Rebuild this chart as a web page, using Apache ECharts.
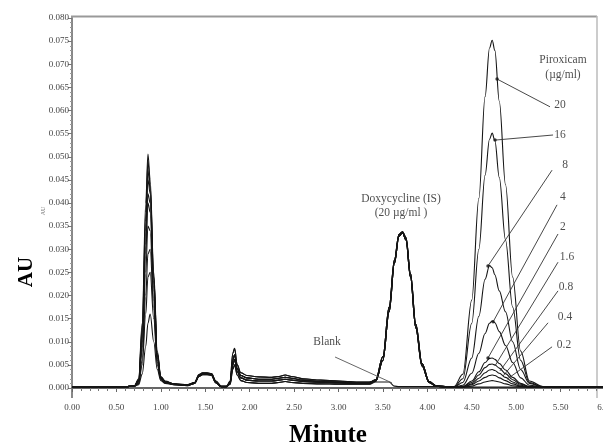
<!DOCTYPE html>
<html><head><meta charset="utf-8">
<script src="https://cdn.jsdelivr.net/npm/echarts@6/dist/echarts.min.js"></script>
<style>html,body{margin:0;padding:0;background:#fff}#c{width:603px;height:447px}</style>
</head><body><div id="c"></div>
<script>
// ---- time grids (minutes) ----
const tSolvent = [0, 0.45, 0.6, 0.7, 0.75, 0.79, 0.83, 0.855, 0.88, 0.92, 0.96, 1.0, 1.05, 1.15];
const tMid = [1.3, 1.38, 1.43, 1.47, 1.52, 1.57, 1.62, 1.68, 1.74, 1.78, 1.81, 1.83, 1.86, 1.9, 1.97, 2.1, 2.25, 2.33, 2.4, 2.47, 2.6, 2.8, 3.0, 3.2, 3.35];
const tDoxy = [3.42, 3.5, 3.57, 3.63, 3.68, 3.72, 3.76, 3.81, 3.87, 3.94, 4.02, 4.1, 4.2];
const tPirox = [4.3, 4.4, 4.5, 4.58, 4.65, 4.7, 4.73, 4.76, 4.81, 4.88, 4.96, 5.05, 5.15, 5.3, 5.6, 6.0];

// ---- solvent front region (AU) ----
const S1 = [0.0003,0.0003,0.0003,0.0004,0.0020,0.0140,0.0400,0.0506,0.0450,0.0250,0.0080,0.0025,0.0015,0.0009];
const S2 = [0.0003,0.0003,0.0003,0.0004,0.0018,0.0130,0.0380,0.0490,0.0440,0.0240,0.0075,0.0024,0.0014,0.0009];
const S3 = [0.0003,0.0003,0.0003,0.0004,0.0017,0.0120,0.0360,0.0470,0.0430,0.0240,0.0075,0.0023,0.0014,0.0009];
const S4 = [0.0003,0.0003,0.0003,0.0004,0.0016,0.0110,0.0340,0.0450,0.0420,0.0230,0.0070,0.0022,0.0013,0.0008];
const S5 = [0.0003,0.0003,0.0003,0.0004,0.0015,0.0100,0.0310,0.0420,0.0400,0.0220,0.0070,0.0022,0.0013,0.0008];
const S6 = [0.0003,0.0003,0.0003,0.0004,0.0014,0.0090,0.0290,0.0400,0.0380,0.0210,0.0065,0.0021,0.0012,0.0008];
const S7 = [0.0003,0.0003,0.0003,0.0004,0.0012,0.0080,0.0250,0.0350,0.0340,0.0190,0.0060,0.0020,0.0012,0.0008];
const S8 = [0.0003,0.0003,0.0003,0.0004,0.0010,0.0060,0.0200,0.0290,0.0300,0.0170,0.0055,0.0019,0.0011,0.0007];
const S9 = [0.0003,0.0003,0.0003,0.0004,0.0009,0.0050,0.0160,0.0240,0.0250,0.0150,0.0050,0.0018,0.0011,0.0007];
const S10 = [0.0003,0.0003,0.0003,0.0004,0.0007,0.0030,0.0090,0.0140,0.0160,0.0100,0.0040,0.0016,0.0010,0.0007];

// ---- middle region (small peaks) ----
const M1 = [0.0007,0.0012,0.0029,0.0033,0.0033,0.0031,0.0015,0.0004,0.0004,0.0015,0.0075,0.0086,0.0050,0.0033,0.0027,0.0024,0.0023,0.0025,0.0028,0.0025,0.0020,0.0017,0.0015,0.0013,0.0013];
const M2 = [0.0006,0.0011,0.0027,0.0031,0.0031,0.0029,0.0013,0.0003,0.0003,0.0012,0.0060,0.0072,0.0042,0.0027,0.0022,0.0019,0.0019,0.0021,0.0023,0.0021,0.0017,0.0014,0.0013,0.0012,0.0012];
const M3 = [0.0006,0.0010,0.0026,0.0030,0.0030,0.0028,0.0012,0.0003,0.0003,0.0010,0.0050,0.0062,0.0035,0.0022,0.0017,0.0015,0.0015,0.0017,0.0019,0.0017,0.0014,0.0012,0.0011,0.0010,0.0010];
const M4 = [0.0005,0.0010,0.0025,0.0029,0.0029,0.0027,0.0011,0.0003,0.0003,0.0008,0.0040,0.0050,0.0028,0.0016,0.0012,0.0010,0.0010,0.0012,0.0014,0.0012,0.0010,0.0009,0.0008,0.0008,0.0008];

// ---- doxycycline (IS) region ----
const Da = [0.0015,0.0060,0.0165,0.0270,0.0328,0.0336,0.0320,0.0240,0.0130,0.0048,0.0012,0.0004,0.0002];
const Db = [0.0018,0.0068,0.0175,0.0277,0.0332,0.0338,0.0325,0.0248,0.0138,0.0053,0.0014,0.0005,0.0003];
const Dblank = [0.0013,0.0013,0.0013,0.0004,0.0003,0.0003,0.0003,0.0003,0.0003,0.0003,0.0003,0.0003,0.0003];

// ---- piroxicam region ----
const P20 = [0.0003,0.0030,0.0190,0.0410,0.0630,0.0735,0.0752,0.0730,0.0620,0.0440,0.0240,0.0080,0.0015,0.0003,0.0002,0.0002];
const P16 = [0.0002,0.0020,0.0140,0.0300,0.0460,0.0538,0.0551,0.0535,0.0455,0.0320,0.0175,0.0060,0.0012,0.0002,0.0002,0.0002];
const P8 = [0.0002,0.0012,0.0065,0.0155,0.0235,0.0265,0.0260,0.0245,0.0210,0.0165,0.0100,0.0040,0.0010,0.0002,0.0002,0.0002];
const P4 = [0.0001,0.0006,0.0032,0.0075,0.0118,0.0140,0.0145,0.0141,0.0122,0.0092,0.0055,0.0022,0.0006,0.0002,0.0002,0.0002];
const P2 = [0.0001,0.0003,0.0015,0.0035,0.0055,0.0064,0.0065,0.0062,0.0053,0.0039,0.0023,0.0010,0.0003,0.0002,0.0002,0.0002];
const P1_6 = [0.0001,0.0003,0.0012,0.0028,0.0044,0.0051,0.0052,0.0050,0.0043,0.0031,0.0018,0.0008,0.0003,0.0002,0.0002,0.0002];
const P0_8 = [0.0001,0.0002,0.0009,0.0021,0.0033,0.0039,0.0040,0.0038,0.0032,0.0023,0.0013,0.0006,0.0002,0.0002,0.0002,0.0002];
const P0_4 = [0.0001,0.0002,0.0007,0.0015,0.0023,0.0027,0.0028,0.0027,0.0022,0.0016,0.0009,0.0004,0.0002,0.0002,0.0002,0.0002];
const P0_2 = [0.0001,0.0002,0.0004,0.0009,0.0013,0.0015,0.0016,0.0015,0.0013,0.0009,0.0005,0.0003,0.0002,0.0002,0.0002,0.0002];
const Pblank = [0.0002,0.0002,0.0002,0.0002,0.0002,0.0002,0.0002,0.0002,0.0002,0.0002,0.0002,0.0002,0.0002,0.0002,0.0002,0.0002];

const traceNames = ['20','16','8','4','2','1.6','0.8','0.4','0.2','Blank'];
const traceParts = [
  [S1, M1, Da, P20], [S2, M2, Db, P16], [S3, M1, Da, P8], [S4, M2, Db, P4], [S5, M3, Da, P2],
  [S6, M2, Db, P1_6], [S7, M3, Da, P0_8], [S8, M4, Db, P0_4], [S9, M3, Da, P0_2], [S10, M4, Dblank, Pblank]
];

// tick labels
const xTickLabels = ['0.00','0.50','1.00','1.50','2.00','2.50','3.00','3.50','4.00','4.50','5.00','5.50','6.00'];
const yTickLabels = ['0.000','0.005','0.010','0.015','0.020','0.025','0.030','0.035','0.040','0.045','0.050','0.055','0.060','0.065','0.070','0.075','0.080'];

// annotations (data units): text, label position, leader line from -> to, dot at end
const annTexts = ['20','16','8','4','2','1.6','0.8','0.4','0.2'];
const annLabelPos = [[5.494,0.0612],[5.494,0.0547],[5.550,0.0482],[5.527,0.0413],[5.527,0.0348],[5.572,0.0283],[5.561,0.0218],[5.550,0.0154],[5.539,0.0093]];
const annFrom = [[5.381,0.0608],[5.415,0.0547],[5.404,0.0471],[5.460,0.0396],[5.471,0.0333],[5.471,0.0272],[5.471,0.0210],[5.359,0.0141],[5.404,0.0089]];
const annTo = [[4.785,0.0668],[4.762,0.0536],[4.683,0.0264],[4.740,0.0143],[4.683,0.0065],[4.762,0.0048],[4.818,0.0037],[4.852,0.0026],[4.897,0.0019]];
const annDot = [true,true,true,true,true,false,false,false,false];
const otherTexts = [
  {text:'Piroxicam', pos:[5.527,0.0709]},
  {text:'(µg/ml)', pos:[5.527,0.0677]},
  {text:'Doxycycline (IS)', pos:[3.704,0.0409]},
  {text:'(20 µg/ml )', pos:[3.704,0.0378]},
  {text:'Blank', pos:[2.871,0.0099]}
];
const blankLeader = [[2.961,0.0067],[3.602,0.0011]];

const allT = [...tSolvent, ...tMid, ...tDoxy, ...tPirox];
const series = [];
traceParts.forEach((parts, i) => {
  const vals = [].concat(...parts);
  series.push({
    name: traceNames[i], type: 'line', data: allT.map((t, k) => [t, vals[k]]),
    showSymbol: false, smooth: 0.35, smoothMonotone: 'x',
    lineStyle: {color: '#151515', width: 1.1}, z: 2, silent: true
  });
});
annFrom.forEach((f, i) => {
  series.push({type:'line', data:[f, annTo[i]], showSymbol:false, symbol:'none',
    lineStyle:{color:'#333', width:0.9}, z:3, silent:true});
});
series.push({type:'line', data: blankLeader, showSymbol:false, symbol:'none',
  lineStyle:{color:'#555', width:0.9}, z:3, silent:true});
series.push({type:'scatter', data: annTo.filter((p,i)=>annDot[i]), symbolSize:3.5,
  itemStyle:{color:'#111'}, z:4, silent:true});
const labelData = annTexts.map((t,i)=>({name:t, value:annLabelPos[i]}))
  .concat(otherTexts.map(o=>({name:o.text, value:o.pos})));
series.push({type:'scatter', data: labelData, symbolSize:1, itemStyle:{color:'rgba(0,0,0,0)'}, z:5, silent:true,
  label:{show:true, position:'inside', formatter: p=>p.name, color:'#222',
    fontFamily:'Liberation Serif', fontSize:11.5}});

const chart = echarts.init(document.getElementById('c'), null, {renderer:'canvas'});
chart.setOption({
  animation: false,
  backgroundColor: '#fff',
  grid: {left: 72, top: 18, bottom: 59, width: 533, outerBoundsMode: 'none', containLabel: false},
  xAxis: {
    type: 'value', min: 0, max: 6, interval: 0.5, offset: 10,
    axisLine: {lineStyle: {color: '#666', width: 2}},
    axisTick: {length: 4, lineStyle: {color: '#666'}},
    minorTick: {show: true, splitNumber: 5, length: 3, lineStyle: {color: '#777'}},
    splitLine: {show: false},
    axisLabel: {fontFamily: 'Liberation Serif', fontSize: 9, color: '#444', margin: 5,
      formatter: v => xTickLabels[Math.round(v / 0.5)] || ''}
  },
  yAxis: {
    type: 'value', min: 0, max: 0.08, interval: 0.005,
    axisLine: {show: true, lineStyle: {color: '#888', width: 2}},
    axisTick: {show: true, length: 4, lineStyle: {color: '#777'}},
    minorTick: {show: true, splitNumber: 5, length: 2, lineStyle: {color: '#999'}},
    splitLine: {show: false},
    axisLabel: {fontFamily: 'Liberation Serif', fontSize: 9, color: '#444', margin: 3,
      formatter: v => yTickLabels[Math.round(v / 0.005)] || ''}
  },
  graphic: [
    {type:'line', shape:{x1:72, y1:388, x2:72, y2:398}, style:{stroke:'#888', lineWidth:2}},
    {type:'line', shape:{x1:71, y1:16.5, x2:597, y2:16.5}, style:{stroke:'#999', lineWidth:2}},
    {type:'line', shape:{x1:597, y1:16, x2:597, y2:398}, style:{stroke:'#bbb', lineWidth:1.5}},
    {type:'text', x:27, y:272, rotation:Math.PI/2, style:{text:'AU', font:'bold 21px "Liberation Serif"', fill:'#000', align:'center', verticalAlign:'middle'}},
    {type:'text', x:43, y:211, rotation:Math.PI/2, style:{text:'AU', font:'6px "Liberation Serif"', fill:'#777', align:'center', verticalAlign:'middle'}},
    {type:'text', x:328, y:436, style:{text:'Minute', font:'bold 25px "Liberation Serif"', fill:'#000', align:'center', verticalAlign:'middle'}}
  ],
  series: series
});
</script>
</body></html>
